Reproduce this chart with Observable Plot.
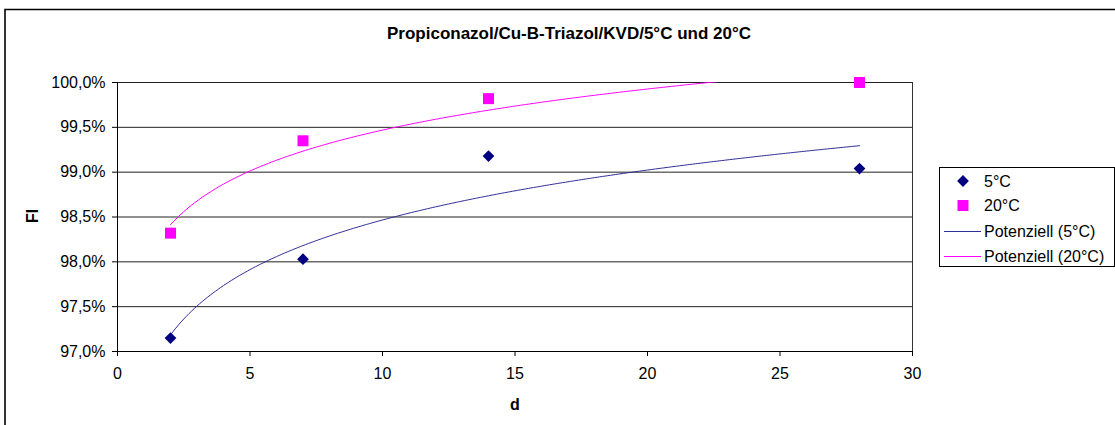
<!DOCTYPE html>
<html>
<head>
<meta charset="utf-8">
<script src="https://cdn.jsdelivr.net/npm/d3@7"></script>
<script src="https://cdn.jsdelivr.net/npm/@observablehq/plot@0.6"></script>
<style>
  html, body { margin: 0; padding: 0; background: #fff; }
  #chart svg { display: block; }
</style>
</head>
<body>
<div id="chart"></div>
<script>
// Chart text
const title = "Propiconazol/Cu-B-Triazol/KVD/5°C und 20°C";
const xLabel = "d";
const yLabel = "FI";

// Measurements: storage time in days and FI (%) per temperature
const days = [2, 7, 14, 28];
const fi5 = [97.15, 98.03, 99.18, 99.04];
const fi20 = [98.32, 99.35, 99.82, 100.0];
const seriesNames = ["5°C", "20°C"];
const trendNames = ["Potenziell (5°C)", "Potenziell (20°C)"];

// Axis ticks
const xTicks = [0, 5, 10, 15, 20, 25, 30];
const yTicks = [97.0, 97.5, 98.0, 98.5, 99.0, 99.5, 100.0];

const FONT = "'Liberation Sans', Arial, Helvetica, sans-serif";
const NAVY = "#000080";
const NAVY_TREND = "#2e2e98";
const MAGENTA = "#ff00ff";

// Power trend line y = a·x^b, least squares on (ln x, ln y)
function powerFit(xs, ys) {
  const lx = xs.map(Math.log), ly = ys.map(Math.log);
  const mx = d3.mean(lx), my = d3.mean(ly);
  const b = d3.sum(lx, (v, i) => (v - mx) * (ly[i] - my)) / d3.sum(lx, v => (v - mx) ** 2);
  const a = Math.exp(my - b * mx);
  return x => a * Math.pow(x, b);
}

const points5 = days.map((d, i) => ({d, fi: fi5[i]}));
const points20 = days.map((d, i) => ({d, fi: fi20[i]}));

// Trend curves evaluated over the measured range of days
const span = d3.range(0, 261).map(i => days[0] + i * (days[days.length - 1] - days[0]) / 260);
const f5 = powerFit(days, fi5);
const f20 = powerFit(days, fi20);
const trend5 = span.map(d => ({d, fi: f5(d)}));
const trend20 = span.map(d => ({d, fi: f20(d)}));

const fmtPct = v => v.toFixed(1).replace(".", ",") + "%";

const chart = Plot.plot({
  width: 1115,
  height: 425,
  marginLeft: 117,
  marginRight: 203,
  marginTop: 82,
  marginBottom: 74,
  style: {fontFamily: FONT, fontSize: "16px", color: "#000", background: "#fff", overflow: "visible"},
  x: {domain: [0, 30]},
  y: {domain: [97, 100]},
  marks: [
    Plot.gridY(yTicks, {stroke: "#222", strokeOpacity: 1, strokeWidth: 1}),
    Plot.ruleX([30], {stroke: "#333", strokeWidth: 1}),
    Plot.axisY({ticks: yTicks, tickSize: 5, tickPadding: 7, tickFormat: fmtPct, label: null, stroke: "#000"}),
    Plot.axisX({ticks: xTicks, tickSize: 5, tickPadding: 11, label: null, stroke: "#000"}),
    Plot.ruleX([0], {stroke: "#000", strokeWidth: 1}),
    Plot.ruleY([97], {stroke: "#000", strokeWidth: 1}),
    Plot.line(trend5, {x: "d", y: "fi", stroke: NAVY_TREND, strokeWidth: 1, clip: true}),
    Plot.line(trend20, {x: "d", y: "fi", stroke: MAGENTA, strokeWidth: 1, clip: true}),
    Plot.dot(points5, {x: "d", y: "fi", symbol: "diamond2", fill: NAVY, stroke: "none", r: 5.3}),
    Plot.dot(points20, {x: "d", y: "fi", symbol: "square", fill: MAGENTA, stroke: "none", r: 6.2})
  ]
});

const svg = d3.select(chart);

// Chart area border
svg.append("path")
  .attr("d", "M5,425V9.5H1115")
  .attr("fill", "none")
  .attr("stroke", "#000")
  .attr("stroke-width", 1.6);

// Title and axis titles
svg.append("text")
  .attr("x", 569).attr("y", 39)
  .attr("text-anchor", "middle")
  .attr("font-family", FONT).attr("font-size", 17).attr("font-weight", "bold")
  .text(title);

svg.append("text")
  .attr("transform", "translate(38,216) rotate(-90)")
  .attr("text-anchor", "middle")
  .attr("font-family", FONT).attr("font-size", 16).attr("font-weight", "bold")
  .text(yLabel);

svg.append("text")
  .attr("x", 515).attr("y", 410)
  .attr("text-anchor", "middle")
  .attr("font-family", FONT).attr("font-size", 16).attr("font-weight", "bold")
  .text(xLabel);

// Legend
const lg = svg.append("g")
  .attr("font-family", FONT).attr("font-size", 16)
  .attr("text-anchor", "start");
lg.append("rect")
  .attr("x", 939.5).attr("y", 167.5).attr("width", 175).attr("height", 99)
  .attr("fill", "#fff").attr("stroke", "#000").attr("stroke-width", 1);

const rowY = [181, 205.5, 231, 256];
const markerX = 963, textX = 984;
lg.append("path")
  .attr("d", d3.symbol(d3.symbolDiamond2, Math.PI * 5.3 * 5.3)())
  .attr("transform", `translate(${markerX},${rowY[0]})`)
  .attr("fill", NAVY);
lg.append("path")
  .attr("d", d3.symbol(d3.symbolSquare, Math.PI * 6.2 * 6.2)())
  .attr("transform", `translate(${markerX},${rowY[1]})`)
  .attr("fill", MAGENTA);
lg.append("line")
  .attr("x1", 944).attr("x2", 981).attr("y1", rowY[2] + 0.5).attr("y2", rowY[2] + 0.5)
  .attr("stroke", NAVY_TREND).attr("stroke-width", 1);
lg.append("line")
  .attr("x1", 944).attr("x2", 981).attr("y1", rowY[3] + 0.5).attr("y2", rowY[3] + 0.5)
  .attr("stroke", MAGENTA).attr("stroke-width", 1);

const labels = [...seriesNames, ...trendNames];
labels.forEach((t, i) => {
  lg.append("text")
    .attr("x", textX).attr("y", rowY[i])
    .attr("dy", "0.35em")
    .attr("text-anchor", "start")
    .text(t);
});

document.getElementById("chart").appendChild(chart);
</script>
</body>
</html>
